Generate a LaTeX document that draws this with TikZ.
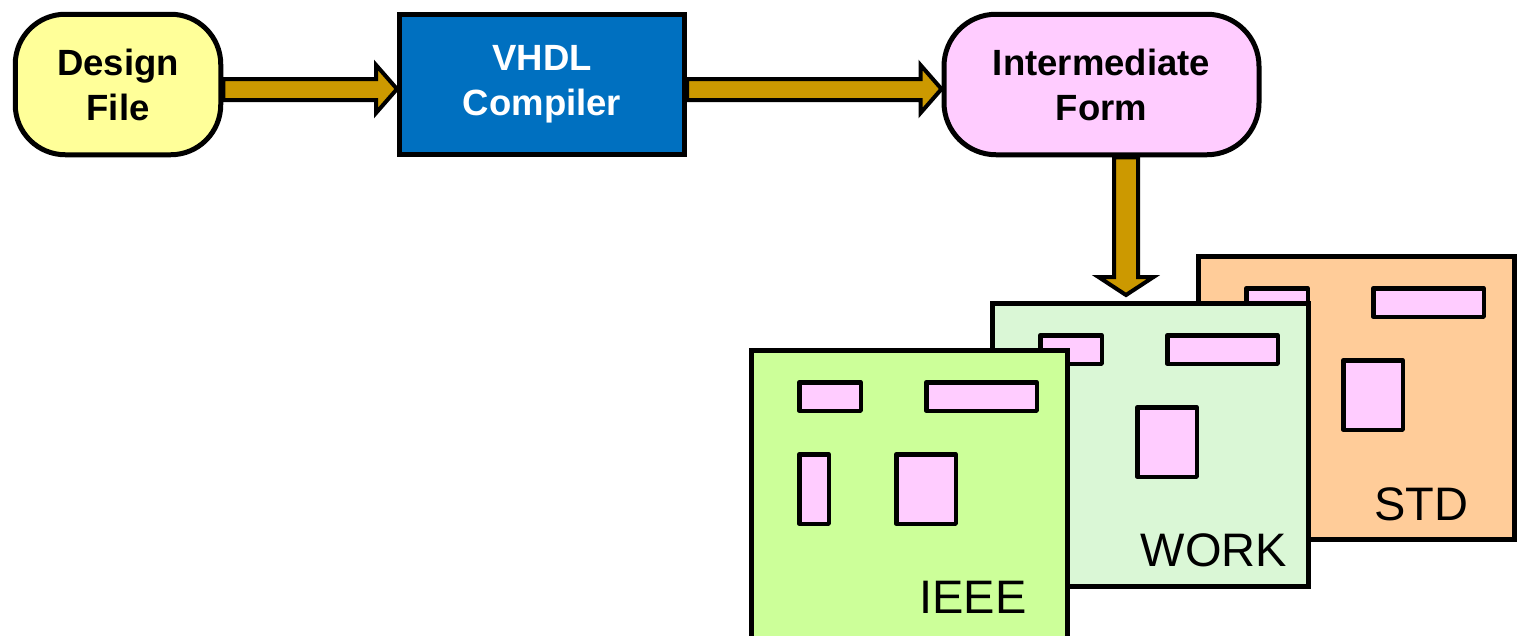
\documentclass[tikz,border=0pt]{standalone}
\usepackage{fontspec}
\setmainfont{Liberation Sans}
\usetikzlibrary{calc}
\definecolor{dfyellow}{HTML}{FFFF99}
\definecolor{vblue}{HTML}{0070C0}
\definecolor{ipink}{HTML}{FFCCFF}
\definecolor{agold}{HTML}{CC9900}
\definecolor{ieeegreen}{HTML}{CCFF99}
\definecolor{workgreen}{HTML}{DAF7D6}
\definecolor{stdorange}{HTML}{FFCC99}
\tikzset{
  procbox/.style={draw=black, line width=5pt, font=\fontsize{36.5}{45}\selectfont\bfseries, align=center, inner sep=0pt},
  blockarrow/.style={draw=black, line width=4pt, fill=agold, line join=miter},
  sheet/.style={draw=black, line width=5pt, minimum width=316pt, minimum height=283pt, inner sep=0pt, anchor=north west},
  cell/.style={draw=black, line width=4.5pt, fill=ipink, line join=round},
  sheetlabel/.style={font=\fontsize{47}{56}\selectfont, inner sep=0pt},
}
\newcommand\drawcells[1]{%
  \draw[cell] ($(#1.north west)+(50.25,34.25)$) rectangle ($(#1.north west)+(111.75,62.75)$);
  \draw[cell] ($(#1.north west)+(177.25,34.25)$) rectangle ($(#1.north west)+(287.75,62.75)$);
  \draw[cell] ($(#1.north west)+(147.25,106.25)$) rectangle ($(#1.north west)+(206.75,175.75)$);
}
\begin{document}
\begin{tikzpicture}[x=1pt,y=-1pt]
\useasboundingbox (0,0) rectangle (1518,635);
\clip (0,0) rectangle (1518,635);

% process boxes
\node[procbox, fill=dfyellow, minimum width=205.5pt, minimum height=140.5pt, rounded corners=50pt] (df) at (118,84.5) {Design\\File};
\node[procbox, fill=vblue, text=white, minimum width=285pt, minimum height=140.5pt] (vc) at (542,84.5) {VHDL\\Compiler};
\node[procbox, fill=ipink, minimum width=315pt, minimum height=140.5pt, rounded corners=52pt] (imf) at (1101.5,84.5) {Intermediate\\Form};

% library sheets
\node[sheet, fill=stdorange] (std) at (1196,254) {};
\drawcells{std}
\node[sheetlabel] (stdl) at ($(std.north west)+(225,250.5)$) {STD};

\node[sheet, fill=workgreen] (work) at (990,301) {};
\drawcells{work}
\node[sheetlabel] (workl) at ($(work.north west)+(224,249.5)$) {WORK};

\node[sheet, fill=ieeegreen, minimum height=310pt] (ieee) at (749,348) {};
\drawcells{ieee}
\draw[cell] ($(ieee.north west)+(50.25,106.25)$) rectangle ($(ieee.north west)+(79.75,175.75)$);
\node[sheetlabel] (ieeel) at ($(ieee.north west)+(224,249.5)$) {IEEE};

% block arrows
\draw[blockarrow] ($(df.east)+(0,-5.5)$) -- ($(vc.west)+(-21,-5.5)$) -- ($(vc.west)+(-21,-19.5)$)
  -- ($(vc.west)+(0,4.5)$) -- ($(vc.west)+(-21,28.5)$) -- ($(vc.west)+(-21,15.5)$)
  -- ($(df.east)+(0,15.5)$) -- cycle;
\draw[blockarrow] ($(vc.east)+(0,-5.5)$) -- ($(imf.west)+(-21,-5.5)$) -- ($(imf.west)+(-21,-19.5)$)
  -- ($(imf.west)+(0,4.5)$) -- ($(imf.west)+(-21,28.5)$) -- ($(imf.west)+(-21,15.5)$)
  -- ($(vc.east)+(0,15.5)$) -- cycle;

\coordinate (a0) at ($(imf.south)+(24.5,0)$);
\coordinate (a1) at ($(work.north)+(-24.5,-6)$);
\draw[blockarrow] ($(a0)+(-12,0)$) -- ($(a1)+(-12,-18)$) -- ($(a1)+(-27.5,-18)$)
  -- (a1) -- ($(a1)+(27.5,-18)$) -- ($(a1)+(12,-18)$) -- ($(a0)+(12,0)$) -- cycle;
\end{tikzpicture}
\end{document}
